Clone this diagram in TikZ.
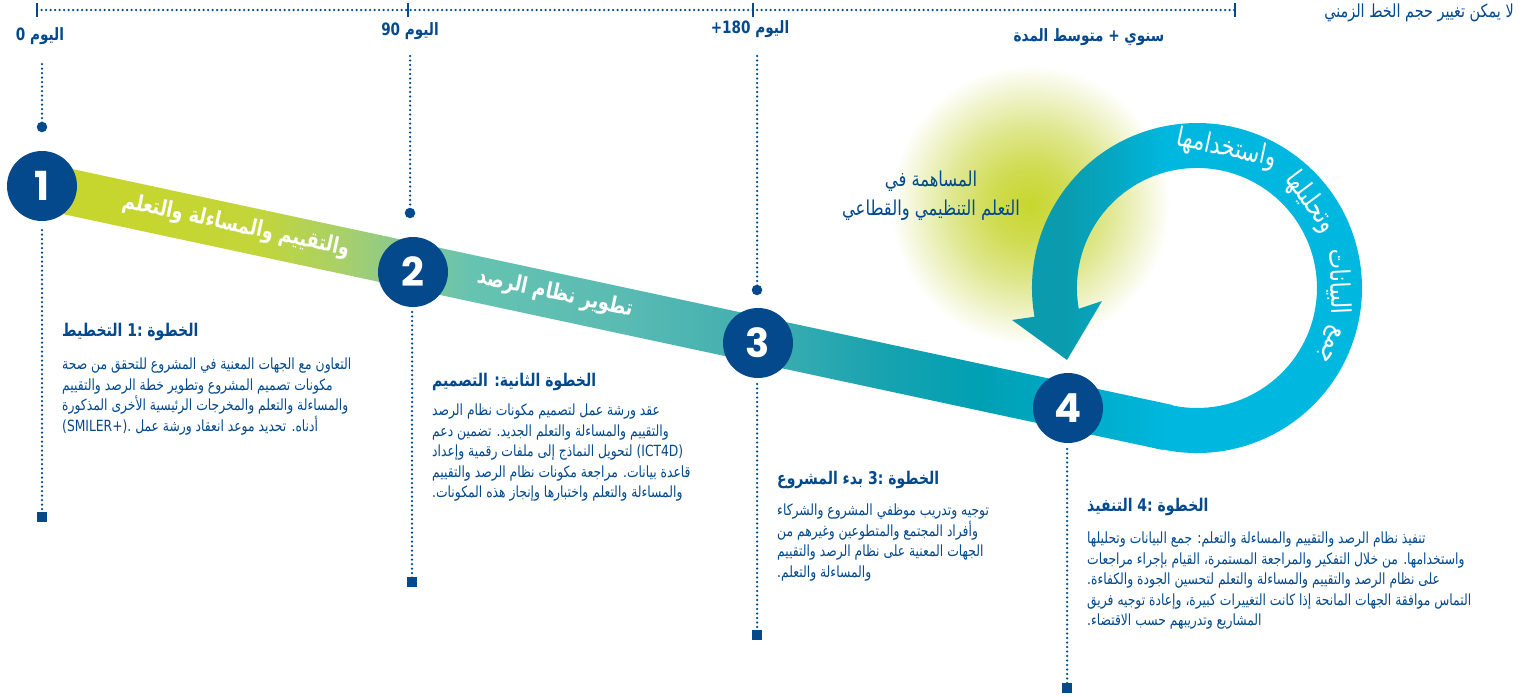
\documentclass[tikz,border=0pt]{standalone}
\usepackage{fontspec}
\usetikzlibrary{calc}
\TeXXeTstate=1
\newfontfamily\arabicfont[Script=Arabic, FakeStretch=0.8]{DejaVu Sans}
\newfontfamily\numfont{Poppins}
\definecolor{navy}{HTML}{03498C}
\definecolor{b1}{HTML}{C6D62F}
\definecolor{b2}{HTML}{C2D53A}
\definecolor{b3}{HTML}{A9D068}
\definecolor{b4}{HTML}{8BC98E}
\definecolor{b5}{HTML}{66C3B1}
\definecolor{b6}{HTML}{5ABBB3}
\definecolor{b7}{HTML}{40AEB0}
\definecolor{b8}{HTML}{18A3B0}
\definecolor{b9}{HTML}{00A0B3}
\definecolor{b10}{HTML}{00ABC8}
\definecolor{b11}{HTML}{00B8DF}
\definecolor{r1}{HTML}{0A9CAE}
\definecolor{r2}{HTML}{05A8C4}
\definecolor{r3}{HTML}{00B8DF}
\definecolor{g0}{HTML}{C8D62E}
\definecolor{g1}{HTML}{D0DC52}
\definecolor{g2}{HTML}{DFE78F}
\definecolor{g3}{HTML}{F0F4CC}
\pgfdeclarehorizontalshading{bandsh}{100bp}{color(0bp)=(b1); color(29.94bp)=(b1); color(34.79bp)=(b2); color(38.31bp)=(b3); color(40.96bp)=(b4); color(44.04bp)=(b5); color(50.65bp)=(b6); color(56.82bp)=(b7); color(62.11bp)=(b8); color(66.51bp)=(b9); color(70.92bp)=(b10); color(75bp)=(b11); color(100bp)=(b11)}
\pgfdeclarehorizontalshading{ringsh}{100bp}{color(0bp)=(r1); color(32.5bp)=(r1); color(39.6bp)=(r2); color(46.8bp)=(r3); color(100bp)=(r3)}
\pgfdeclareradialshading{glowsh}{\pgfpoint{0bp}{0bp}}{color(0bp)=(g0); color(7bp)=(g1); color(14bp)=(g2); color(20bp)=(g3); color(25bp)=(white); color(50bp)=(white)}
\tikzset{
  dotline/.style={navy, line width=2.5pt, line cap=round, dash pattern=on 0pt off 4.5pt},
  stepc/.style={circle, fill=navy, minimum size=70pt, inner sep=0pt, text=white, font=\numfont\bfseries\fontsize{40}{40}\selectfont},
  dotn/.style={circle, fill=navy, minimum size=10.5pt, inner sep=0pt},
  sqn/.style={rectangle, fill=navy, minimum size=10.5pt, inner sep=0pt},
  tickn/.style={rectangle, fill=navy, minimum width=2.6pt, minimum height=14pt, inner sep=0pt},
  bandtxt/.style={text=white, inner sep=0pt, font=\arabicfont\bfseries\fontsize{22}{24}\selectfont},
  ringtxt/.style={text=white, inner sep=0pt, font=\arabicfont\fontsize{27}{28}\selectfont},
  titletxt/.style={text=navy, inner sep=0pt, anchor=west, font=\arabicfont\bfseries\fontsize{17.5}{20}\selectfont},
  bodytxt/.style={text=navy, inner sep=0pt, anchor=north west, align=left, font=\arabicfont\fontsize{15.4}{20.5}\selectfont},
  lbl/.style={text=navy, inner sep=0pt, font=\arabicfont\bfseries\fontsize{17}{19}\selectfont},
  note/.style={text=navy, inner sep=0pt, font=\arabicfont\fontsize{18}{20}\selectfont},
  glowtxt/.style={text=navy, inner sep=0pt, align=center, font=\arabicfont\fontsize{20.5}{29}\selectfont}
}
\begin{document}
\begin{tikzpicture}[x=1pt,y=-1pt]
\useasboundingbox (0,0) rectangle (1528,696);
\fill[white] (0,0) rectangle (1528,696);

% glow
\shade[shading=glowsh] (1030,205) circle (140);

% band
\shade[shading=bandsh] (47.4,163.7) -- (1172.6,405.0) -- (1163.0,450.0) -- (37.8,208.7) -- cycle;

% ring with arrow
\coordinate (C) at (1197,288);
\shade[shading=ringsh] (1171.8,405.3) arc[start angle=102.1, end angle=-190, radius=120]
  -- (1102,301) -- (1067,360) -- (1012,320) -- (1034.5,316.7)
  arc[start angle=-190, end angle=102.1, radius=165] -- cycle;

% top timeline
\node[tickn] (k0) at (37,10) {};
\node[tickn] (k1) at (408,10) {};
\node[tickn] (k2) at (753,10) {};
\node[tickn] (k3) at (1235,10) {};
\draw[dotline] (k0.center) -- (k3.center);

\node[lbl] (lab0) at (40,36) {\beginR اليوم 0\endR};
\node[lbl] (lab1) at (410,31) {\beginR اليوم 90\endR};
\node[lbl] (lab2) at (750,29) {\beginR اليوم 180+\endR};
\node[lbl] (lab3) at (1089,37) {\beginR سنوي + متوسط المدة\endR};
\node[note] (nt) at (1419,13) {\beginR لا يمكن تغيير حجم الخط الزمني\endR};

% vertical guides
\coordinate (t1) at (42,64);
\coordinate (t2) at (410,56);
\coordinate (t3) at (757,56);
\node[dotn] (u1) at (42,127) {};
\node[dotn] (u2) at (410,213) {};
\node[dotn] (u3) at (757,290) {};
\draw[dotline] (t1) -- (u1.center);
\draw[dotline] (t2) -- (u2.center);
\draw[dotline] (t3) -- (u3.center);

\coordinate (l1) at (42,230);
\coordinate (l2) at (412,312);
\coordinate (l3) at (757,384);
\coordinate (l4) at (1067,449);
\node[sqn] (s1) at (42,517) {};
\node[sqn] (s2) at (412,582) {};
\node[sqn] (s3) at (757,635) {};
\node[sqn] (s4) at (1067,688) {};
\draw[dotline] (l1) -- (s1.center);
\draw[dotline] (l2) -- (s2.center);
\draw[dotline] (l3) -- (s3.center);
\draw[dotline] (l4) -- (s4.center);

% step circles
\node[stepc] (n1) at (42,186) {1};
\node[stepc] (n2) at (413,272) {2};
\node[stepc] (n3) at (758,343) {3};
\node[stepc] (n4) at (1068,408) {4};

% band texts
\node[bandtxt, rotate=-12.1] (bt1) at (236,226) {\beginR والتقييم والمساءلة والتعلم\endR};
\node[bandtxt, rotate=-12.1] (bt2) at (555,294) {\beginR تطوير نظام الرصد\endR};

% ring texts
\node[ringtxt, rotate=-12] (w1) at ($(C)+(-78:142)$) {\beginR واستخدامها\endR};
\node[ringtxt, rotate=-53] (w2) at ($(C)+(-37:142)$) {\beginR وتحليلها\endR};
\node[ringtxt, rotate=-87.5] (w3) at ($(C)+(-2.5:142)$) {\beginR البيانات\endR};
\node[ringtxt, rotate=-113] (w4) at ($(C)+(23:142)$) {\beginR جمع\endR};

% glow text
\node[glowtxt] (gt) at (931,196) {\beginR المساهمة في\endR\\\beginR التعلم التنظيمي والقطاعي\endR};

% step 1
\node[titletxt] (h1) at (62,332) {\beginR الخطوة :1 التخطيط\endR};
\node[bodytxt] (p1) at (62,358) {\beginR التعاون مع الجهات المعنية في المشروع للتحقق من صحة\endR\\
\beginR مكونات تصميم المشروع وتطوير خطة الرصد والتقييم\endR\\
\beginR والمساءلة والتعلم والمخرجات الرئيسية الأخرى المذكورة\endR\\
\beginR أدناه. تحديد موعد انعقاد ورشة عمل (SMILER+).\endR};

% step 2
\node[titletxt] (h2) at (432,382) {\beginR الخطوة الثانية: التصميم\endR};
\node[bodytxt] (p2) at (432,404) {\beginR عقد ورشة عمل لتصميم مكونات نظام الرصد\endR\\
\beginR والتقييم والمساءلة والتعلم الجديد. تضمين دعم\endR\\
\beginR (ICT4D) لتحويل النماذج إلى ملفات رقمية وإعداد\endR\\
\beginR قاعدة بيانات. مراجعة مكونات نظام الرصد والتقييم\endR\\
\beginR والمساءلة والتعلم واختبارها وإنجاز هذه المكونات.\endR};

% step 3
\node[titletxt] (h3) at (777,480) {\beginR الخطوة :3 بدء المشروع\endR};
\node[bodytxt] (p3) at (777,504) {\beginR توجيه وتدريب موظفي المشروع والشركاء\endR\\
\beginR وأفراد المجتمع والمتطوعين وغيرهم من\endR\\
\beginR الجهات المعنية على نظام الرصد والتقييم\endR\\
\beginR والمساءلة والتعلم.\endR};

% step 4
\node[titletxt] (h4) at (1087,507) {\beginR الخطوة :4 التنفيذ\endR};
\node[bodytxt] (p4) at (1087,532) {\beginR تنفيذ نظام الرصد والتقييم والمساءلة والتعلم: جمع البيانات وتحليلها\endR\\
\beginR واستخدامها. من خلال التفكير والمراجعة المستمرة، القيام بإجراء مراجعات\endR\\
\beginR على نظام الرصد والتقييم والمساءلة والتعلم لتحسين الجودة والكفاءة.\endR\\
\beginR التماس موافقة الجهات المانحة إذا كانت التغييرات كبيرة، وإعادة توجيه فريق\endR\\
\beginR المشاريع وتدريبهم حسب الاقتضاء.\endR};
\end{tikzpicture}
\end{document}
